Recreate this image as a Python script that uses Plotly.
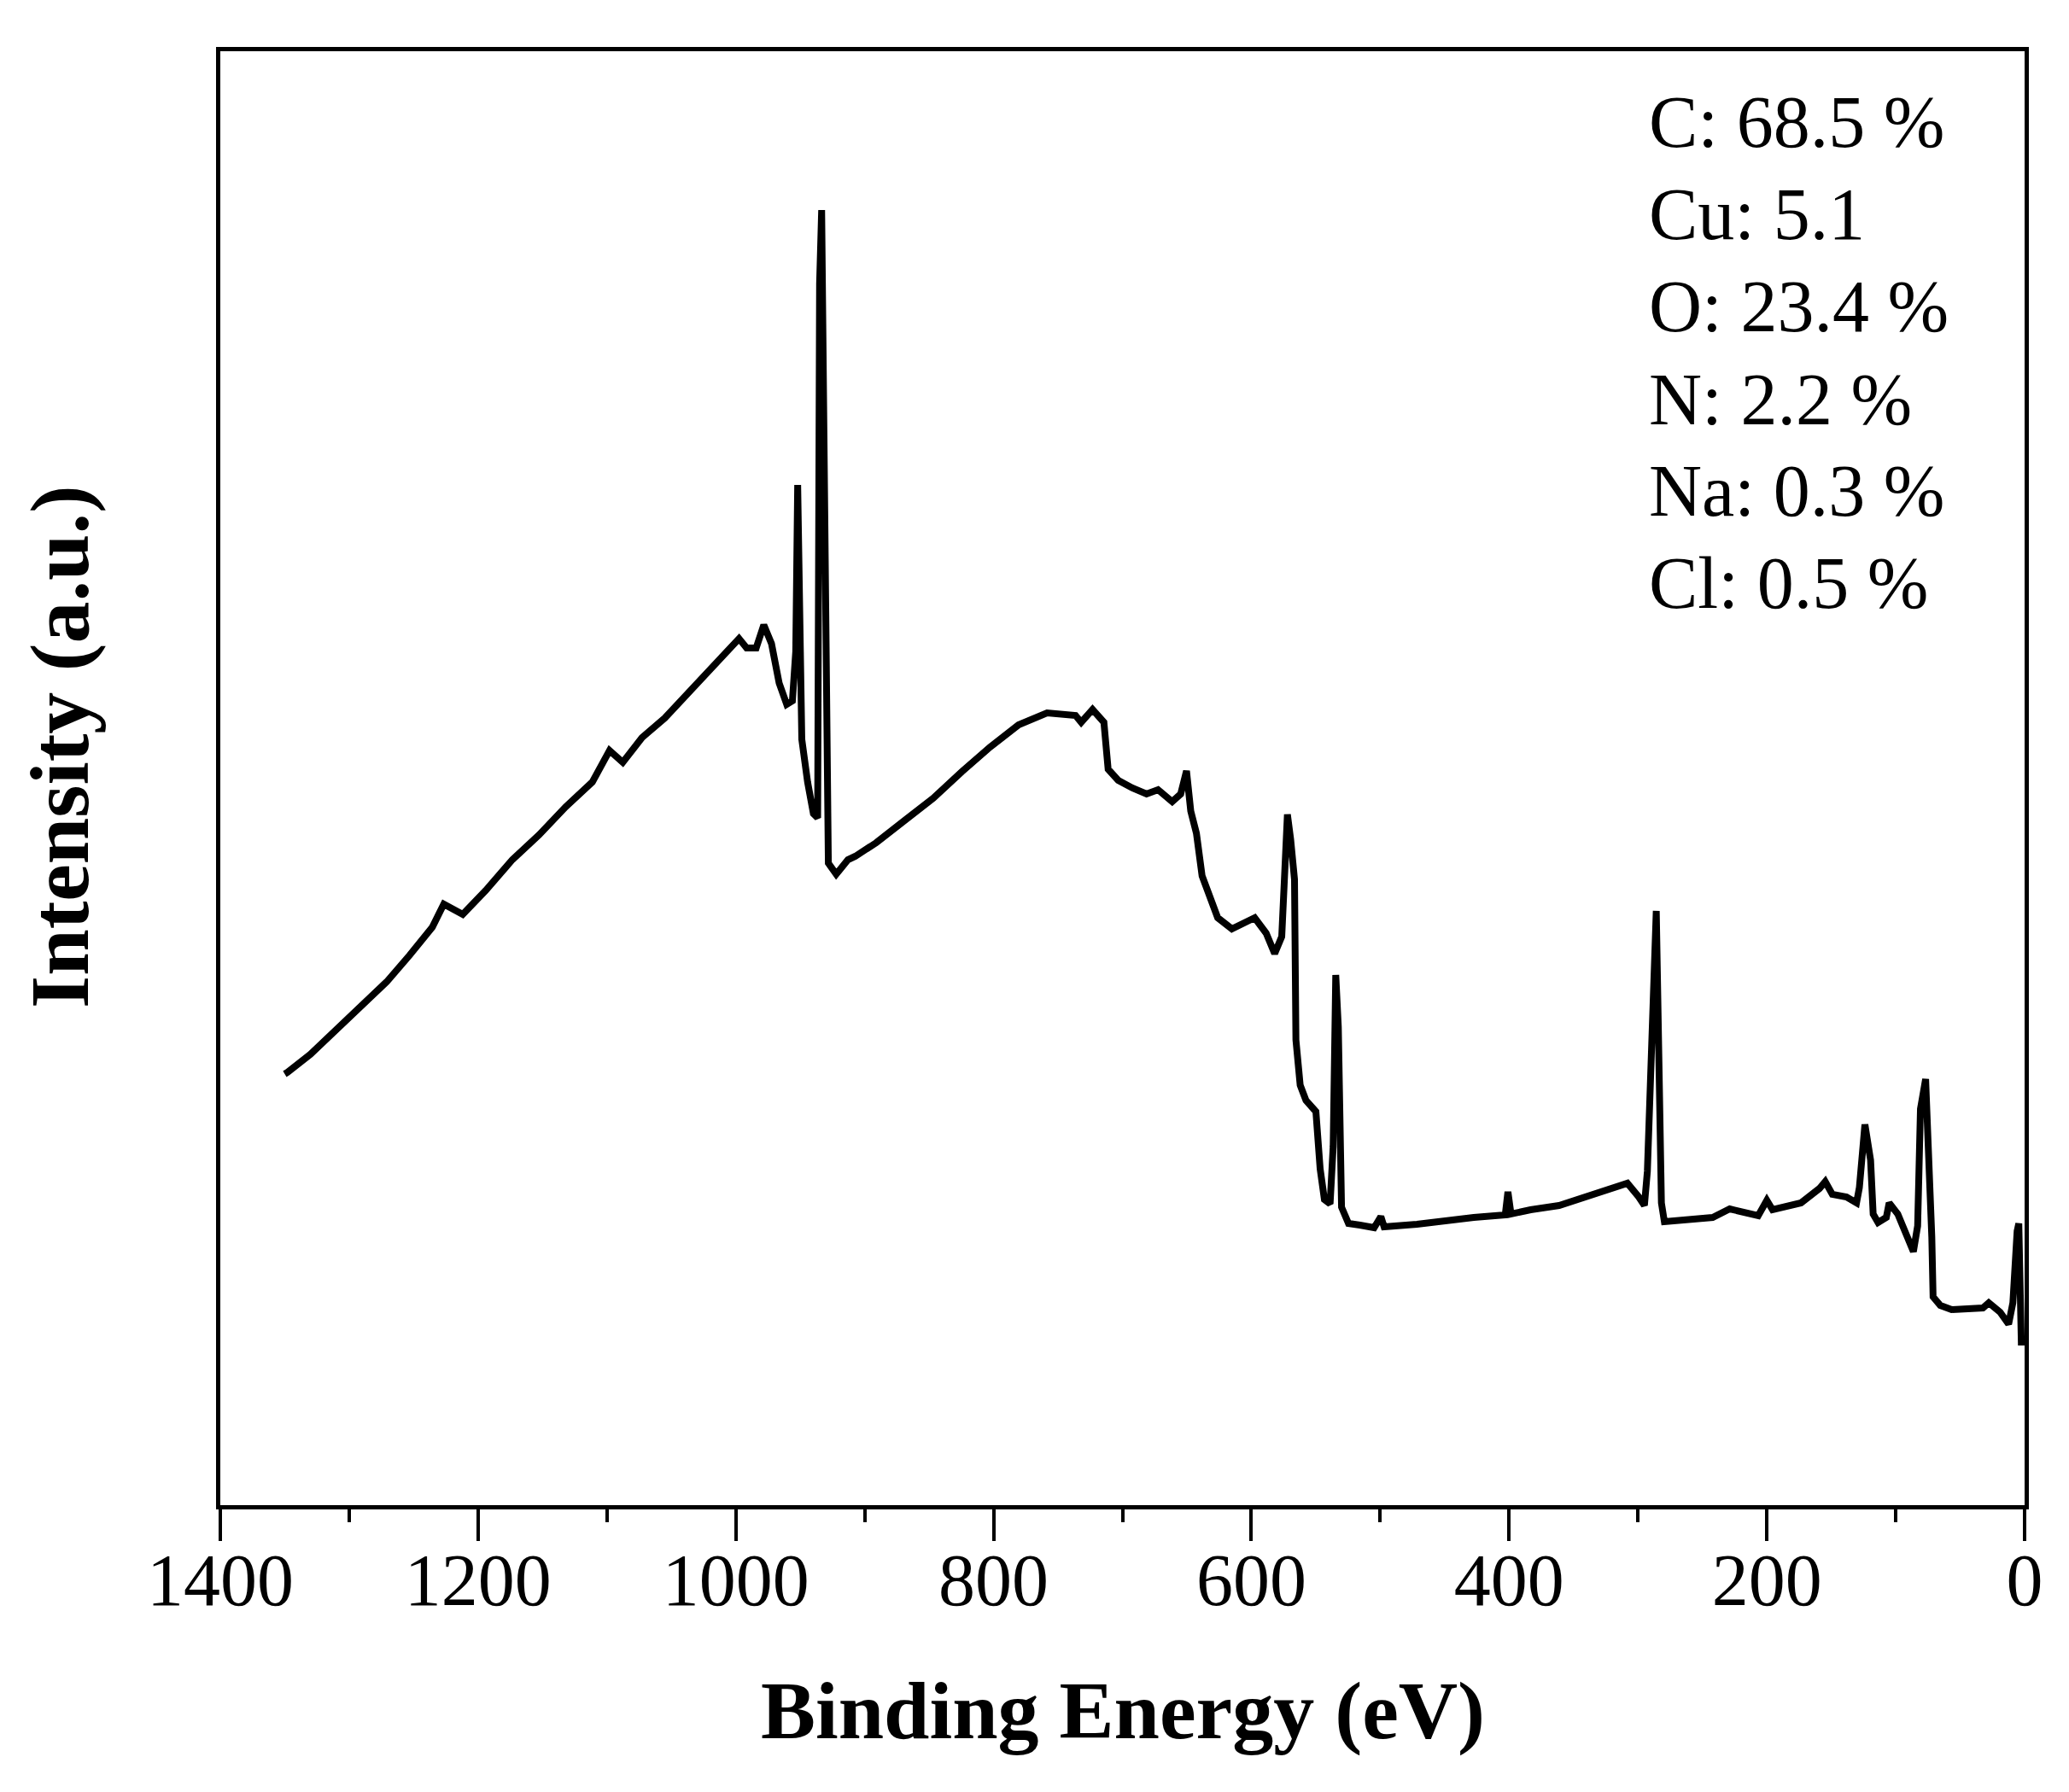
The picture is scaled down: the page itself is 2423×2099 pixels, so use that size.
import plotly.graph_objects as go

# Binding energy (eV) and intensity (a.u.)
binding_energy = [
    1350, 1347.8, 1330.1, 1312.3, 1288.7, 1270.9, 1253.2, 1235.5, 1226.6, 1211.9,
    1194.1, 1173.4, 1152.7, 1132.0, 1111.3, 1098.0, 1087.7, 1072.8, 1055.1, 1040.3,
    1025.6, 1010.8, 997.5, 991.6, 984.2, 978.3, 972.3, 966.4, 960.5, 956.1,
    953.5, 952.0, 950.5, 948.8, 944.3, 939.8, 936.5, 935.0, 933.4, 931.5,
    930.0, 928.2, 922.1, 913.0, 907.3, 891.0, 869.0, 846.8, 824.7, 802.7,
    780.6, 758.5, 736.4, 732.0, 723.2, 714.4, 711.1, 703.3, 692.3, 681.3,
    672.4, 661.4, 654.8, 650.3, 647.0, 642.6, 638.2, 632.7, 626.1, 615.1,
    597.4, 588.5, 581.9, 576.4, 574.0, 572.0, 569.5, 566.5, 565.4, 562.1,
    557.6, 549.9, 546.6, 543.3, 538.9, 536.5, 534.5, 532.5, 530.0, 524.6,
    515.7, 504.7, 499.5, 497.0, 471.5, 449.5, 427.4, 403.0, 400.9, 398.5,
    383.3, 361.2, 339.1, 317.0, 308.2, 299.4, 295.0, 292.7, 288.0, 285.8,
    283.5, 281.8, 279.5, 261.9, 242.0, 228.8, 217.7, 206.7, 200.0, 195.6,
    173.5, 159.1, 154.7, 149.2, 138.2, 130.4, 128.2, 123.9, 119.5, 117.5,
    113.7, 107.3, 105.1, 98.4, 92.9, 86.3, 83.0, 80.8, 76.8, 74.0,
    72.0, 71.0, 65.4, 56.6, 32.3, 27.8, 19.0, 12.4, 9.1, 5.8,
    4.5, 2.5,
]
intensity = [
    505, 507, 528, 553, 586, 613, 644, 677, 704, 692,
    720, 756, 785, 818, 847, 884, 870, 899, 922, 946,
    971, 994, 1015, 1004, 1004, 1031, 1009, 963, 938, 942,
    1000, 1195, 1000, 897, 847, 810, 805, 1431, 1517, 1200,
    900, 752, 739, 756, 760, 776, 802, 828, 859, 888,
    914, 928, 925, 917, 932, 917, 862, 849, 840, 833,
    838, 824, 833, 860, 813, 787, 737, 715, 688, 675,
    688, 670, 646, 666, 760, 809, 780, 733, 545, 492,
    474, 461, 394, 358, 353, 420, 621, 560, 349, 330,
    328, 325, 338, 326, 329, 334, 337, 340, 367, 341,
    346, 351, 361, 371, 377, 361, 351, 391, 617, 696,
    500, 354, 332, 334, 337, 347, 344, 339, 357, 346,
    354, 371, 379, 364, 361, 354, 372, 446, 404, 341,
    331, 337, 354, 341, 321, 297, 327, 464, 499, 400,
    314, 244, 234, 229, 231, 237, 226, 212, 237, 321,
    330, 187,
]

x_ticks = [1400, 1200, 1000, 800, 600, 400, 200, 0]
composition = ["C: 68.5 %", "Cu: 5.1", "O: 23.4 %", "N: 2.2 %", "Na: 0.3 %", "Cl: 0.5 %"]
label_y = [0.9515, 0.8881, 0.8247, 0.7607, 0.6973, 0.6339]

FONT = "Liberation Serif"

fig = go.Figure()
fig.add_trace(go.Scatter(
    x=binding_energy, y=intensity, mode="lines",
    line=dict(color="black", width=8), showlegend=False,
))

annotations = []
for txt, yy in zip(composition, label_y):
    annotations.append(dict(
        text=txt, x=0.791, y=yy, xref="paper", yref="paper",
        xanchor="left", yanchor="middle", showarrow=False,
        font=dict(family=FONT, size=86, color="black"),
    ))
annotations.append(dict(
    text="<b>Intensity (a.u.)</b>", x=-0.089, y=0.522, xref="paper", yref="paper",
    xanchor="center", yanchor="middle", textangle=-90, showarrow=False,
    font=dict(family=FONT, size=98, color="black"),
))
annotations.append(dict(
    text="<b>Binding Energy (eV)</b>", x=0.5, y=-0.141, xref="paper", yref="paper",
    xanchor="center", yanchor="middle", showarrow=False,
    font=dict(family=FONT, size=96, color="black"),
))

fig.update_layout(
    width=2423, height=2099,
    margin=dict(l=250, r=60, t=52, b=344),
    paper_bgcolor="white", plot_bgcolor="white",
    annotations=annotations,
    xaxis=dict(
        range=[1400, 0], tickvals=x_ticks, ticktext=[str(v) for v in x_ticks],
        ticks="outside", ticklen=37, tickwidth=4, tickcolor="black",
        ticklabelstandoff=-28,
        minor=dict(dtick=100, ticks="outside", ticklen=15, tickwidth=4, tickcolor="black"),
        showline=True, linecolor="black", linewidth=5, mirror=True,
        showgrid=False, zeroline=False,
        tickfont=dict(family=FONT, size=86, color="black"),
    ),
    yaxis=dict(
        range=[0, 1703], showticklabels=False, ticks="",
        showline=True, linecolor="black", linewidth=5, mirror=True,
        showgrid=False, zeroline=False,
    ),
)

fig.write_html("out.html")
